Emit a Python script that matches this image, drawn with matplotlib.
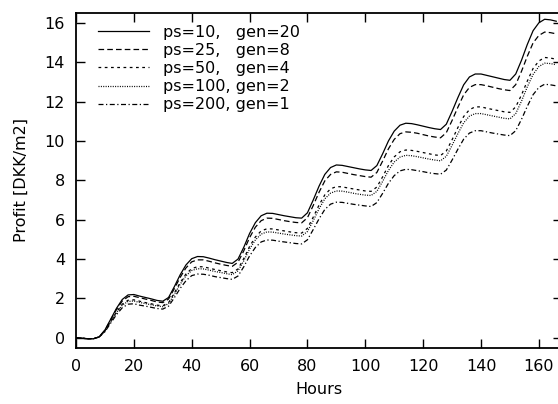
import numpy as np
import matplotlib.pyplot as plt

plt.rcParams["font.family"] = ["DejaVu Sans"]
plt.rcParams["font.size"] = 11.5

hours = np.arange(0, 168, 2)

ps10_gen20 = [
    0.00, -0.02, -0.05, -0.05, 0.05, 0.40, 0.95, 1.50, 1.95, 2.18,
    2.20, 2.12, 2.05, 1.98, 1.90, 1.86, 2.05, 2.60, 3.20, 3.70,
    4.02, 4.13, 4.12, 4.05, 3.97, 3.90, 3.83, 3.78, 4.00, 4.60,
    5.30, 5.85, 6.20, 6.33, 6.32, 6.26, 6.20, 6.15, 6.10, 6.08,
    6.35, 7.00, 7.70, 8.30, 8.65, 8.78, 8.76, 8.70, 8.64, 8.58,
    8.53, 8.50, 8.75, 9.35, 10.00, 10.50, 10.80, 10.90, 10.88, 10.82,
    10.75, 10.68, 10.62, 10.58, 10.85, 11.50, 12.20, 12.85, 13.25, 13.40,
    13.40, 13.33, 13.26, 13.19, 13.12, 13.08, 13.40, 14.10, 14.90, 15.60,
    16.00, 16.18, 16.15, 16.08,
]

ps25_gen8 = [
    0.00, -0.02, -0.05, -0.05, 0.05, 0.38, 0.91, 1.44, 1.87, 2.09,
    2.11, 2.04, 1.97, 1.90, 1.82, 1.79, 1.97, 2.50, 3.07, 3.55,
    3.86, 3.96, 3.96, 3.89, 3.81, 3.74, 3.68, 3.63, 3.84, 4.42,
    5.09, 5.62, 5.95, 6.08, 6.07, 6.01, 5.95, 5.90, 5.86, 5.84,
    6.10, 6.72, 7.39, 7.97, 8.30, 8.43, 8.41, 8.35, 8.29, 8.24,
    8.19, 8.16, 8.40, 8.98, 9.60, 10.08, 10.37, 10.46, 10.44, 10.39,
    10.32, 10.25, 10.20, 10.16, 10.42, 11.04, 11.71, 12.34, 12.72, 12.86,
    12.86, 12.80, 12.73, 12.66, 12.60, 12.56, 12.86, 13.54, 14.30, 14.98,
    15.36, 15.53, 15.50, 15.44,
]

ps50_gen4 = [
    0.00, -0.02, -0.04, -0.04, 0.04, 0.35, 0.83, 1.31, 1.71, 1.91,
    1.93, 1.86, 1.79, 1.73, 1.66, 1.63, 1.79, 2.28, 2.80, 3.24,
    3.52, 3.61, 3.61, 3.54, 3.47, 3.41, 3.35, 3.31, 3.50, 4.03,
    4.64, 5.12, 5.43, 5.54, 5.53, 5.48, 5.43, 5.38, 5.34, 5.32,
    5.56, 6.13, 6.74, 7.26, 7.57, 7.68, 7.67, 7.61, 7.56, 7.51,
    7.46, 7.44, 7.66, 8.18, 8.75, 9.19, 9.45, 9.54, 9.52, 9.47,
    9.41, 9.35, 9.29, 9.26, 9.49, 10.06, 10.68, 11.24, 11.59, 11.73,
    11.73, 11.66, 11.60, 11.54, 11.48, 11.45, 11.73, 12.34, 13.04, 13.68,
    14.06, 14.24, 14.21, 14.15,
]

ps100_gen2 = [
    0.00, -0.02, -0.04, -0.04, 0.04, 0.34, 0.81, 1.28, 1.66, 1.85,
    1.87, 1.80, 1.74, 1.68, 1.62, 1.58, 1.74, 2.21, 2.72, 3.15,
    3.42, 3.51, 3.50, 3.44, 3.37, 3.32, 3.26, 3.21, 3.40, 3.91,
    4.51, 4.97, 5.27, 5.38, 5.37, 5.32, 5.27, 5.23, 5.19, 5.17,
    5.40, 5.95, 6.55, 7.06, 7.35, 7.46, 7.45, 7.40, 7.34, 7.29,
    7.25, 7.23, 7.44, 7.95, 8.50, 8.93, 9.18, 9.27, 9.25, 9.20,
    9.14, 9.08, 9.03, 8.99, 9.22, 9.78, 10.37, 10.92, 11.26, 11.39,
    11.39, 11.33, 11.27, 11.21, 11.15, 11.12, 11.39, 12.02, 12.75, 13.38,
    13.78, 13.95, 13.93, 13.87,
]

ps200_gen1 = [
    0.00, -0.02, -0.04, -0.04, 0.04, 0.31, 0.75, 1.18, 1.53, 1.71,
    1.73, 1.66, 1.61, 1.55, 1.49, 1.46, 1.61, 2.04, 2.51, 2.90,
    3.16, 3.24, 3.23, 3.18, 3.11, 3.06, 3.01, 2.97, 3.14, 3.61,
    4.16, 4.59, 4.87, 4.97, 4.96, 4.91, 4.87, 4.83, 4.79, 4.77,
    4.98, 5.50, 6.04, 6.52, 6.79, 6.89, 6.88, 6.83, 6.78, 6.74,
    6.70, 6.67, 6.87, 7.34, 7.85, 8.24, 8.48, 8.56, 8.54, 8.49,
    8.44, 8.38, 8.34, 8.31, 8.52, 9.03, 9.58, 10.09, 10.40, 10.52,
    10.52, 10.46, 10.40, 10.35, 10.30, 10.27, 10.52, 11.10, 11.76, 12.35,
    12.72, 12.88, 12.85, 12.80,
]

series = [
    ("ps=10,   gen=20", ps10_gen20, (None, None)),
    ("ps=25,   gen=8", ps25_gen8, (4.5, 2.5)),
    ("ps=50,   gen=4", ps50_gen4, (2.2, 2.8)),
    ("ps=100, gen=2", ps100_gen2, (0.8, 1.1)),
    ("ps=200, gen=1", ps200_gen1, (4.0, 2.0, 1.0, 2.0)),
]

fig = plt.figure(figsize=(5.58, 4.04), dpi=100)
ax = fig.add_axes([0.1362, 0.1394, 0.871, 0.8285])

for label, values, dashes in series:
    line, = ax.plot(hours, values, color="black", linewidth=0.9, label=label)
    if dashes[0] is not None:
        line.set_dashes(dashes)

ax.set_xlim(0, 168)
ax.set_ylim(-0.5, 16.5)
ax.set_xticks(np.arange(0, 161, 20))
ax.set_yticks(np.arange(0, 17, 2))

ax.tick_params(
    direction="in",
    length=6.5,
    width=1.0,
    top=True,
    right=True,
    pad=8
)

for spine in ax.spines.values():
    spine.set_linewidth(1.3)

ax.set_xlabel("Hours", labelpad=6)
ax.set_ylabel("Profit [DKK/m2]", labelpad=11.5)

ax.legend(
    loc="upper left",
    bbox_to_anchor=(0.045, 0.965),
    frameon=False,
    borderpad=0,
    borderaxespad=0,
    labelspacing=0.2,
    handlelength=3.2,
    handletextpad=0.9
)

plt.savefig("out.png", dpi=100)
